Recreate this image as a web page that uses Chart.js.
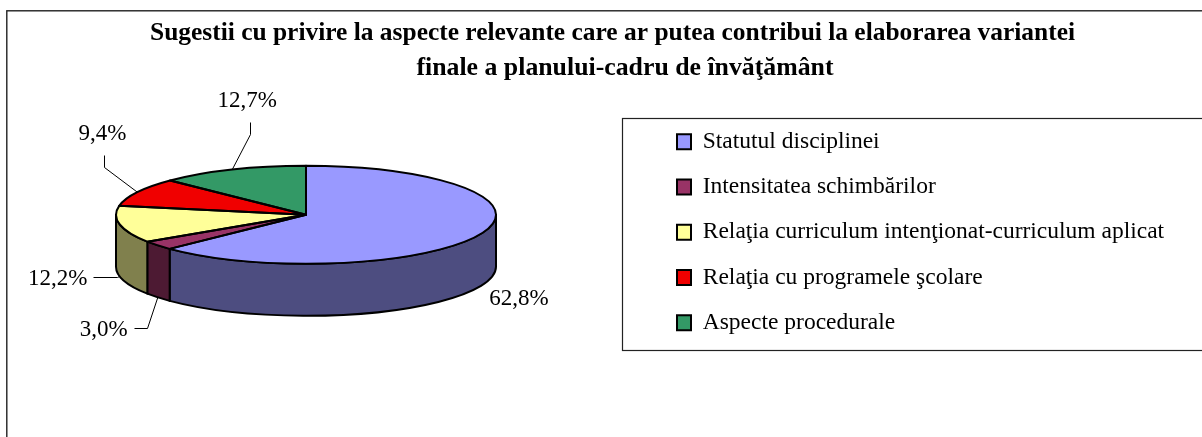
<!DOCTYPE html>
<html><head><meta charset="utf-8">
<style>html,body{margin:0;padding:0;background:#fff}canvas{display:block}</style>
<script src="https://cdn.jsdelivr.net/npm/chart.js@4"></script>
</head><body><canvas id="c" width="1202" height="437"></canvas>
<script>
const titleLine1 = 'Sugestii cu privire la aspecte relevante care ar putea contribui la elaborarea variantei';
const titleLine2 = 'finale a planului-cadru de învăţământ';
const categories = ['Statutul disciplinei','Intensitatea schimbărilor','Relaţia curriculum intenţionat-curriculum aplicat','Relaţia cu programele şcolare','Aspecte procedurale'];
const values = [62.8,3.0,12.2,9.4,12.7];
const topColors = ['#9999FF','#993366','#FFFF99','#F00000','#339966'];
const sideColors = ['#4D4D80','#4D1A33','#80804D','#800000','#1A4D33'];

const FONT = '"Liberation Serif","Times New Roman",serif';
const RADIUS = 190, SQUASH = 49/190, DEPTH = 52;
// leader-line bends and label centres, relative to each slice's rim point
const labelLayout = [
  {depth:1, lead:[], text:[38,13.5]},
  {depth:1, lead:[[-11,30.5],[-24,30.5]], text:[-54,32.5]},
  {depth:1, lead:[[-3,1],[-27,1]], text:[-62,2.5]},
  {depth:0, lead:[[-33,-25],[-33,-37]], text:[-35,-58]},
  {depth:0, lead:[[18,-36],[18,-48]], text:[15,-69]}
];

const pie3d = {
  id:'pie3d',
  beforeDraw(chart){
    const c = chart.ctx;
    c.save(); c.fillStyle='#fff'; c.fillRect(0,0,chart.width,chart.height);
    c.strokeStyle='#222'; c.lineWidth=1.4;
    c.strokeRect(6.8,10.8,1400,700);
    c.lineWidth=1.2;
    c.strokeRect(622.5,118.5,800,232);
    c.restore();
  },
  beforeDatasetsDraw(chart){
    const c = chart.ctx, arcs = chart.getDatasetMeta(0).data;
    arcs.forEach((a,i)=>{
      const s = Math.max(a.startAngle,0), e = Math.min(a.endAngle,Math.PI);
      if (e<=s) return;
      const k = a.outerRadius*SQUASH;
      c.save();
      c.beginPath();
      c.ellipse(a.x,a.y,a.outerRadius,k,0,s,e);
      c.lineTo(a.x+a.outerRadius*Math.cos(e),a.y+k*Math.sin(e)+DEPTH);
      c.ellipse(a.x,a.y+DEPTH,a.outerRadius,k,0,e,s,true);
      c.closePath();
      c.fillStyle=sideColors[i]; c.fill();
      c.strokeStyle='#000'; c.lineWidth=2; c.lineJoin='round'; c.stroke();
      c.restore();
    });
    const a0 = arcs[0];
    c.save();
    c.translate(a0.x,a0.y); c.scale(1,SQUASH); c.translate(-a0.x,-a0.y);
  },
  afterDatasetsDraw(chart){
    const c = chart.ctx, arcs = chart.getDatasetMeta(0).data;
    c.restore();
    arcs.forEach(a=>{
      c.save();
      c.beginPath();
      c.moveTo(a.x,a.y);
      c.ellipse(a.x,a.y,a.outerRadius,a.outerRadius*SQUASH,0,a.startAngle,a.endAngle);
      c.closePath();
      c.strokeStyle='#000'; c.lineWidth=2; c.lineJoin='round'; c.stroke();
      c.restore();
    });
    c.save();
    c.font='23px '+FONT; c.fillStyle='#000'; c.textAlign='center'; c.textBaseline='middle';
    arcs.forEach((a,i)=>{
      const mid=(a.startAngle+a.endAngle)/2, L=labelLayout[i];
      const px=a.x+a.outerRadius*Math.cos(mid);
      const py=a.y+a.outerRadius*SQUASH*Math.sin(mid)+(L.depth?DEPTH:0);
      if (L.lead.length){
        c.beginPath(); c.moveTo(px,py);
        L.lead.forEach(p=>c.lineTo(Math.round(px+p[0])+.5,Math.round(py+p[1])+.5));
        c.strokeStyle='#000'; c.lineWidth=1; c.stroke();
      }
      c.fillText(values[i].toFixed(1).replace('.',',')+'%',px+L.text[0],py+L.text[1]);
    });
    c.restore();
  },
  afterLayout(chart){
    const l = chart.legend, pad = chart.options.plugins.legend.labels.padding;
    l.left = 677-pad; l.right = 1202; l.top = 108.4; l.bottom = 437;
    chart.boxes.forEach(b=>{
      if (!b.options) return;
      if (b.options.text===titleLine1){ b.left=612.5-601; b.right=612.5+601; }
      if (b.options.text===titleLine2){ b.left=625-601; b.right=625+601; }
    });
  }
};

new Chart(document.getElementById('c'),{
  type:'pie',
  data:{labels:categories,datasets:[{data:values,backgroundColor:topColors,borderWidth:0,clip:false}]},
  plugins:[pie3d],
  options:{
    responsive:false,animation:false,radius:RADIUS,
    events:[],
    layout:{padding:{left:0,right:590,top:0,bottom:91}},
    plugins:{
      tooltip:{enabled:false},
      title:{display:true,text:titleLine1,color:'#000',align:'center',
        font:{family:FONT,size:25.45,weight:'bold'},padding:{top:18,bottom:0}},
      subtitle:{display:true,text:titleLine2,color:'#000',align:'center',
        font:{family:FONT,size:25.8,weight:'bold'},padding:{top:4,bottom:0}},
      legend:{display:true,position:'chartArea',align:'start',
        labels:{color:'#000',font:{family:FONT,size:23.5},boxWidth:14,boxHeight:15,padding:21.7,
          generateLabels(chart){
            return Chart.overrides.pie.plugins.legend.labels.generateLabels(chart)
              .map(it=>Object.assign(it,{strokeStyle:'#000',lineWidth:2}));
          }}}
    }
  }
});
</script></body></html>
